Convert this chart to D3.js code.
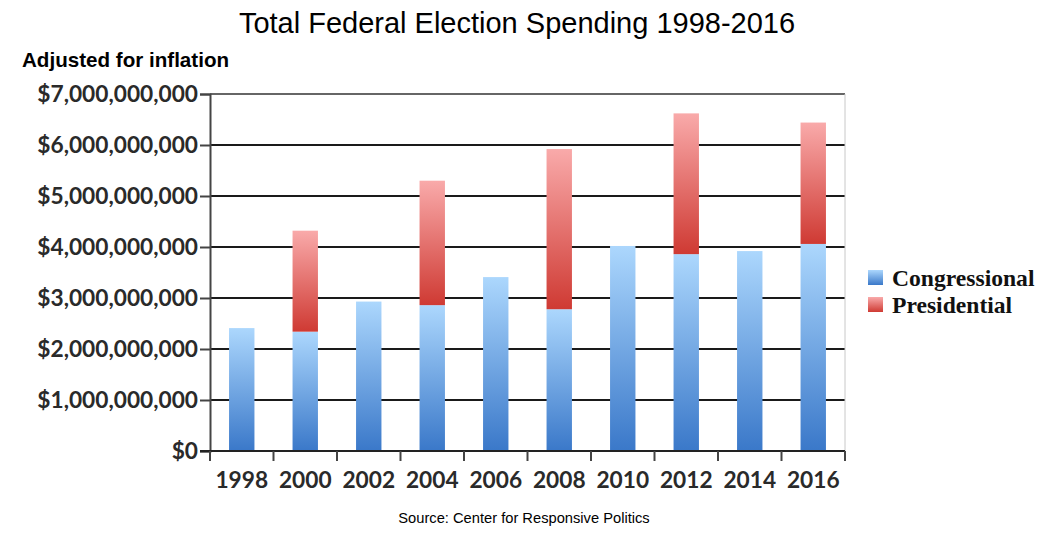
<!DOCTYPE html>
<html>
<head>
<meta charset="utf-8">
<script src="https://cdn.jsdelivr.net/npm/d3@7"></script>
<style>
  body { margin: 0; background: #fff; }
  svg { display: block; }
</style>
</head>
<body>
<div id="container"></div>
<script>
// data (billions of dollars, inflation adjusted)
const years = ["1998", "2000", "2002", "2004", "2006", "2008", "2010", "2012", "2014", "2016"];
const congressional = [2.41, 2.34, 2.93, 2.86, 3.41, 2.78, 4.02, 3.86, 3.92, 4.06];
const presidential = [0, 1.98, 0, 2.44, 0, 3.14, 0, 2.76, 0, 2.38];
const yTicks = [0, 1, 2, 3, 4, 5, 6, 7];
const seriesNames = ["Congressional", "Presidential"];

function draw() {
    const width = 1064;
    const height = 540;
    const left = 210, right = 845, top = 94, bottom = 451;

    const svg = d3.select('#container')
        .append('svg')
        .attr('width', width)
        .attr('height', height);

    const defs = svg.append("defs");
    const gradients = [
        { id: "gBlue", top: "#acd7fd", bottom: "#3a78c9" },
        { id: "gRed", top: "#f9aaaa", bottom: "#cf3a33" }
    ];
    gradients.forEach(g => {
        const lg = defs.append("linearGradient")
            .attr("id", g.id)
            .attr("x1", 0).attr("y1", 0).attr("x2", 0).attr("y2", 1);
        lg.append("stop").attr("offset", "0%").attr("stop-color", g.top);
        lg.append("stop").attr("offset", "100%").attr("stop-color", g.bottom);
    });

    const x = d3.scaleBand()
        .domain(years)
        .range([left, right])
        .paddingInner(0.6)
        .paddingOuter(0.3);

    const y = d3.scaleLinear()
        .domain([0, 7])
        .range([bottom, top]);

    // title and notes
    svg.append("text")
        .text("Total Federal Election Spending 1998-2016")
        .attr("x", 517)
        .attr("y", 33)
        .attr("text-anchor", "middle")
        .style("font-family", "Liberation Sans, Arial, sans-serif")
        .style("font-size", "29px")
        .style("fill", "#000");

    svg.append("text")
        .text("Adjusted for inflation")
        .attr("x", 22)
        .attr("y", 67)
        .style("font-family", "Liberation Sans, Arial, sans-serif")
        .style("font-weight", "bold")
        .style("font-size", "20.6px")
        .style("fill", "#000");

    svg.append("text")
        .text("Source: Center for Responsive Politics")
        .attr("x", 524)
        .attr("y", 523)
        .attr("text-anchor", "middle")
        .style("font-family", "Liberation Sans, Arial, sans-serif")
        .style("font-size", "14.7px")
        .style("fill", "#000");

    // gridlines
    svg.append("g")
        .selectAll("line")
        .data(yTicks.filter(d => d > 0))
        .join("line")
        .attr("x1", left)
        .attr("x2", right)
        .attr("y1", d => y(d))
        .attr("y2", d => y(d))
        .style("stroke", d => d === 7 ? "#666" : "#1a1a1a")
        .style("stroke-width", 2);

    // right border
    svg.append("line")
        .attr("x1", right).attr("x2", right)
        .attr("y1", top).attr("y2", bottom)
        .style("stroke", "#c8c8c8")
        .style("stroke-width", 1);

    // bars
    const bars = svg.append("g");
    bars.selectAll("rect.cong")
        .data(years)
        .join("rect")
        .attr("class", "cong")
        .attr("x", d => x(d))
        .attr("width", x.bandwidth())
        .attr("y", (d, i) => y(congressional[i]))
        .attr("height", (d, i) => y(0) - y(congressional[i]))
        .style("fill", "url(#gBlue)");

    bars.selectAll("rect.pres")
        .data(years.filter((d, i) => presidential[i] > 0))
        .join("rect")
        .attr("class", "pres")
        .attr("x", d => x(d))
        .attr("width", x.bandwidth())
        .attr("y", d => {
            const i = years.indexOf(d);
            return y(congressional[i] + presidential[i]);
        })
        .attr("height", d => {
            const i = years.indexOf(d);
            return y(congressional[i]) - y(congressional[i] + presidential[i]);
        })
        .style("fill", "url(#gRed)");

    // y axis
    const yAxis = svg.append("g")
        .attr("transform", `translate(${left},0)`)
        .call(d3.axisLeft(y)
            .tickValues(yTicks)
            .tickSize(10)
            .tickPadding(2)
            .tickFormat(d => "$" + d3.format(",")(d * 1e9)));
    yAxis.select(".domain").style("stroke", "#444").style("stroke-width", 2);
    yAxis.selectAll(".tick line").style("stroke", "#444").style("stroke-width", 2);
    yAxis.selectAll("text")
        .style("font-family", "Lato, Carlito, sans-serif")
        .style("font-weight", "bold")
        .style("font-size", "22.7px")
        .style("fill", "#2a2a2a");

    // x axis, ticks at category boundaries
    const xAxis = svg.append("g")
        .attr("transform", `translate(0,${bottom})`);
    xAxis.append("line")
        .attr("x1", left - 10).attr("x2", right)
        .style("stroke", "#222")
        .style("stroke-width", 2);
    const bounds = years.map(d => x(d) - x.step() * x.paddingInner() / 2).concat([right]);
    xAxis.selectAll("line.tk")
        .data(bounds)
        .join("line")
        .attr("class", "tk")
        .attr("x1", d => d).attr("x2", d => d)
        .attr("y1", 0).attr("y2", 10)
        .style("stroke", "#444")
        .style("stroke-width", 2);
    xAxis.selectAll("text")
        .data(years)
        .join("text")
        .text(d => d)
        .attr("x", d => x(d) + x.bandwidth() / 2)
        .attr("y", 37)
        .attr("text-anchor", "middle")
        .style("font-family", "Lato, Carlito, sans-serif")
        .style("font-weight", "bold")
        .style("font-size", "22.7px")
        .style("fill", "#2a2a2a");

    // legend
    const legend = svg.append("g").attr("transform", "translate(868,270)");
    seriesNames.forEach((name, i) => {
        const row = legend.append("g").attr("transform", `translate(0,${i * 27})`);
        row.append("rect")
            .attr("width", 15)
            .attr("height", 15)
            .style("fill", i === 0 ? "url(#gBlue)" : "url(#gRed)");
        row.append("text")
            .text(name)
            .attr("x", 24)
            .attr("y", 16)
            .style("font-family", "Liberation Serif, serif")
            .style("font-weight", "bold")
            .style("font-size", "23.6px")
            .style("fill", "#111");
    });
}
draw();
</script>
</body>
</html>
